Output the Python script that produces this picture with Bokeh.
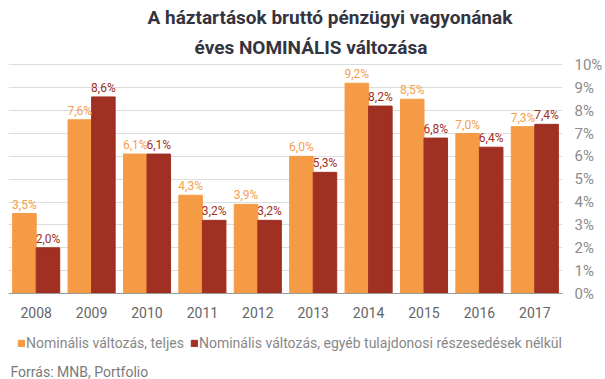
from bokeh.plotting import figure
from bokeh.models import (ColumnDataSource, FixedTicker, PrintfTickFormatter, Legend, LegendItem,
                          Title, Range1d, Label)
from bokeh.layouts import column
from bokeh.transform import dodge
from bokeh.core.properties import value
from bokeh.embed import file_html
from bokeh.resources import INLINE

years = ["2008", "2009", "2010", "2011", "2012", "2013", "2014", "2015", "2016", "2017"]
total = [3.5, 7.6, 6.1, 4.3, 3.9, 6.0, 9.2, 8.5, 7.0, 7.3]
excl = [2.0, 8.6, 6.1, 3.2, 3.2, 5.3, 8.2, 6.8, 6.4, 7.4]
y_ticks = [0, 1, 2, 3, 4, 5, 6, 7, 8, 9, 10]
series_names = ["Nominális változás, teljes", "Nominális változás, egyéb tulajdonosi részesedések nélkül"]
title_lines = ["A háztartások bruttó pénzügyi vagyonának", "éves NOMINÁLIS változása"]
source_text = "Forrás: MNB, Portfolio"

def fmt(v):
    return f"{v:.1f}".replace(".", ",") + "%"

src = ColumnDataSource(dict(
    year=years, total=total, excl=excl,
    total_lbl=[fmt(v) for v in total], excl_lbl=[fmt(v) for v in excl],
))

ORANGE = "#F59B45"
RED = "#A03022"
FONT = "Roboto"
NAN = float("nan")

# ---- main chart ----
p = figure(x_range=years, y_range=Range1d(0, 10.15), width=605, height=330,
           output_backend="svg", toolbar_location=None, y_axis_location="right",
           min_border_left=8, min_border_top=61, min_border_bottom=37, min_border_right=42)
p.outline_line_color = None
p.x_range.range_padding = 0

r1 = p.vbar(x=dodge("year", -0.2125, range=p.x_range), top="total", width=0.425,
            source=src, color=ORANGE)
r2 = p.vbar(x=dodge("year", 0.2125, range=p.x_range), top="excl", width=0.425,
            source=src, color=RED)

p.text(x=dodge("year", -0.2125, range=p.x_range), y="total", text="total_lbl", source=src,
       text_align="center", text_baseline="alphabetic", y_offset=-9,
       text_font=value(FONT), text_font_size="12px", text_color="#F5A04E")
p.text(x=dodge("year", 0.2125, range=p.x_range), y="excl", text="excl_lbl", source=src,
       text_align="center", text_baseline="alphabetic", y_offset=-9,
       text_font=value(FONT), text_font_size="12px", text_color=RED)

p.xaxis.axis_line_color = "#999999"
p.xaxis.major_tick_line_color = None
p.xaxis.minor_tick_line_color = None
p.xaxis.major_tick_out = 0
p.xaxis.major_label_standoff = 13
p.xaxis.major_label_text_font = FONT
p.xaxis.major_label_text_font_size = "14px"
p.xaxis.major_label_text_color = "#666666"

p.yaxis.ticker = FixedTicker(ticks=y_ticks)
p.yaxis.formatter = PrintfTickFormatter(format="%d%%")
p.yaxis.axis_line_color = None
p.yaxis.major_tick_line_color = None
p.yaxis.minor_tick_line_color = None
p.yaxis.major_tick_out = 0
p.yaxis.major_label_standoff = 12
p.yaxis.major_label_text_font = FONT
p.yaxis.major_label_text_font_size = "15px"
p.yaxis.major_label_text_color = "#8C8C8C"

p.xgrid.grid_line_color = None
p.ygrid.ticker = FixedTicker(ticks=y_ticks)
p.ygrid.grid_line_color = "#DDDDDD"

p.add_layout(Title(text=title_lines[1], align="left", offset=186, standoff=6,
                   text_font=FONT, text_font_size="19px", text_font_style="bold",
                   text_color="#34343F"), "above")
p.add_layout(Title(text=title_lines[0], align="left", offset=139, standoff=4,
                   text_font=FONT, text_font_size="19px", text_font_style="bold",
                   text_color="#34343F"), "above")

# ---- legend + source strip ----
q = figure(width=605, height=49, x_range=Range1d(0, 1), y_range=Range1d(0, 1),
           output_backend="svg", toolbar_location=None,
           x_axis_type=None, y_axis_type=None,
           min_border_left=8, min_border_right=42, min_border_top=0, min_border_bottom=0)
q.outline_line_color = None
q.xgrid.visible = False
q.ygrid.visible = False
key_src = ColumnDataSource(dict(x=[NAN], top=[NAN]))
k1 = q.vbar(x="x", top="top", width=0.1, source=key_src, color=ORANGE)
k2 = q.vbar(x="x", top="top", width=0.1, source=key_src, color=RED)

legend = Legend(items=[LegendItem(label=series_names[0], renderers=[k1]),
                       LegendItem(label=series_names[1], renderers=[k2])],
                orientation="horizontal", location=(9, 28),
                glyph_width=8, glyph_height=8, label_height=16, label_standoff=1, spacing=6,
                padding=0, margin=0, border_line_color=None, background_fill_alpha=0,
                label_text_font=FONT, label_text_font_size="14px", label_text_color="#888888")
q.add_layout(legend, "center")
q.add_layout(Label(x=2, y=8, x_units="screen", y_units="screen", text=source_text,
                   text_font=FONT, text_font_size="14px", text_color="#7A7A7A",
                   text_baseline="middle"))

layout = column(p, q, spacing=0)
open("out.html", "w").write(file_html(layout, INLINE))
